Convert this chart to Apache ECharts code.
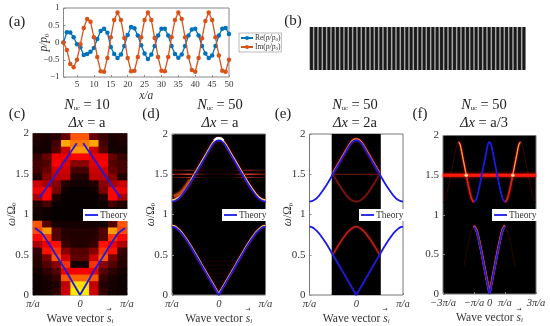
<!DOCTYPE html>
<html><head><meta charset="utf-8">
<script src="https://cdn.jsdelivr.net/npm/echarts@6/dist/echarts.min.js"></script>
<style>html,body{margin:0;padding:0;background:#fff}#c{width:550px;height:326px}</style>
</head><body><div id="c"></div>
<script>
// (a) field along the chain
const siteIndex = [];
for (let i = 1; i <= 50; i++) siteIndex.push(i);
const rePressure = [0,.3,.29,.15,-.05,-.14,-.36,-.33,-.27,-.16,.1,.33,.4,.28,-.13,-.33,-.45,-.35,-.1,.22,.45,.41,.2,-.08,-.32,-.48,-.35,-.1,.2,.4,.4,.2,-.1,-.33,-.44,-.35,-.1,.2,.38,.4,.2,-.1,-.32,-.45,-.38,-.1,.2,.4,.42,.25];
const imPressure = [0,-.22,-.62,-.72,-.5,-.05,.42,.68,.6,.15,-.42,-.83,-.85,-.45,.15,.65,.87,.65,.13,-.45,-.83,-.82,-.42,.15,.65,.87,.65,.13,-.42,-.82,-.83,-.42,.15,.65,.87,.68,.15,-.42,-.8,-.85,-.45,.12,.62,.87,.65,.15,-.38,-.82,-.85,-.5];
const xTicksA = [5,10,15,20,25,30,35,40,45,50];
// (b) lattice stripes
const latticeCells = siteIndex.map(String);
const latticeHeight = siteIndex.map(() => 1);
// theory dispersion, read at k = 0, .05 ... 1 (in units of pi/a)
const kGrid = [0,.05,.1,.15,.2,.25,.3,.35,.4,.45,.5,.55,.6,.65,.7,.75,.8,.85,.9,.95,1];
const lowerBand = [0,.05,.1,.15,.2,.25,.3,.35,.4,.45,.5,.55,.6,.645,.69,.73,.77,.8,.825,.843,.85];
const upperBand = [1.92,1.915,1.89,1.85,1.8,1.75,1.7,1.65,1.6,1.55,1.5,1.45,1.4,1.355,1.31,1.27,1.23,1.2,1.18,1.165,1.16];
// (c) spectrum, rows top to bottom, 10 columns
const heatC = [
[.05,.04,.06,.15,.5,.5,.15,.08,.04,.05],
[.04,.03,.1,.62,.55,.55,.62,.1,.03,.04],
[.03,.03,.12,.3,.6,.6,.3,.12,.03,.03],
[.08,.15,.35,.35,.38,.38,.35,.35,.15,.08],
[.1,.12,.37,.33,.2,.2,.33,.37,.12,.1],
[.1,.15,.3,.3,.1,.1,.3,.3,.15,.1],
[.05,.2,.28,.28,.05,.05,.28,.28,.2,.05],
[.3,.25,.2,.05,.03,.03,.05,.2,.25,.3],
[.35,.38,.18,.02,.01,.01,.02,.18,.38,.35],
[.25,.38,.05,.01,.01,.01,.01,.05,.38,.25],
[.05,.1,.02,.01,.01,.01,.01,.02,.1,.05],
[.03,.02,.01,.01,.01,.01,.01,.01,.02,.03],
[.02,.02,.01,.01,.01,.01,.01,.01,.02,.02],
[.5,.12,.03,.03,.03,.03,.03,.03,.12,.5],
[.48,.6,.12,.05,.05,.05,.05,.12,.6,.48],
[.38,.45,.12,.06,.05,.05,.06,.12,.45,.38],
[.25,.35,.4,.08,.05,.05,.08,.4,.35,.25],
[.08,.4,.45,.2,.12,.12,.2,.45,.4,.08],
[.06,.18,.5,.3,.14,.14,.3,.5,.18,.06],
[.05,.12,.2,.45,.03,.03,.45,.2,.12,.05],
[.03,.07,.12,.35,.36,.36,.35,.12,.07,.03],
[.02,.04,.08,.5,.52,.52,.5,.08,.04,.02],
[.02,.03,.05,.28,.7,.7,.28,.05,.03,.02],
[.02,.03,.07,.3,.72,.72,.3,.07,.03,.02]];
const hotColors = ['#000000','#550000','#aa0000','#ff0000','#ff5500','#ffaa00','#ffff00','#ffff80','#ffffff'];
const theoryUpperC = [[.07,1.88],[.3,1.68],[.6,1.42],[.865,1.2]];
const theoryLowerC = [[0,0],[.3,.3],[.6,.58],[.8,.76],[.957,.83]];
const streaksD = [1.5,1.46,1.55];
const hazeD = [.12,.17,.22,.27,.32,.37,.42];
const serif = '"Liberation Serif","DejaVu Serif",serif';
const blue = '#1a1ae6';

const mirror = (xs, ys) => {
  const r = [];
  for (let i = xs.length - 1; i > 0; i--) r.push([-xs[i], ys[i]]);
  for (let i = 0; i < xs.length; i++) r.push([xs[i], ys[i]]);
  return r;
};
const upperCurve = mirror(kGrid, upperBand);
const lowerCurve = mirror(kGrid, lowerBand);
const rich = {
  i:{fontFamily:serif,fontStyle:'italic',color:'#333',fontSize:11.5},
  t:{fontFamily:serif,color:'#333',fontSize:11.5},
  s:{fontFamily:serif,color:'#333',fontSize:7,padding:[6,0,0,0]},
  si:{fontFamily:serif,fontStyle:'italic',color:'#333',fontSize:7,padding:[6,0,0,0]},
  T:{fontFamily:serif,color:'#222',fontSize:14.5,lineHeight:18},
  I:{fontFamily:serif,fontStyle:'italic',color:'#222',fontSize:14.5,lineHeight:18},
  S:{fontFamily:serif,color:'#222',fontSize:6.5,padding:[7,0,0,0],lineHeight:18}
};
const grid=[],xAxis=[],yAxis=[],series=[],title=[],legend=[],visualMap=[];
const panels = {
  c:{left:33,top:133.5,width:94,height:161.5,bg:'#000',nameY:true},
  d:{left:172,top:134,width:93.5,height:161,bg:'#000',nameY:true},
  e:{left:309.5,top:134,width:93.5,height:161,bg:'#fff',nameY:true},
  f:{left:443,top:135.5,width:93,height:158.5,bg:'#000',nameY:false}
};
function baseAxes(key,p,xmax,xticks,fmt){
  const g=grid.length;
  grid.push({left:p.left,top:p.top,width:p.width,height:p.height,show:true,backgroundColor:p.bg,borderColor:'#777',borderWidth:1,z:0});
  const xi=xAxis.length, yi=yAxis.length;
  xAxis.push({type:'value',gridIndex:g,min:-xmax,max:xmax,splitLine:{show:false},axisLine:{show:false,onZero:false},
    axisTick:{inside:true,length:2,lineStyle:{color:'#888'},customValues:xticks},
    axisLabel:{customValues:xticks,formatter:fmt,fontFamily:serif,fontStyle:'italic',fontSize:10.5,color:'#333',margin:4,hideOverlap:false},
    name:'{t|Wave vector }{i|s}{si|i}',nameLocation:'middle',nameGap:17,nameMoveOverlap:false,nameTextStyle:{rich}});
  yAxis.push({type:'value',gridIndex:g,min:0,max:2,interval:.5,splitLine:{show:false},axisLine:{show:false,onZero:false},
    axisTick:{inside:true,length:2,lineStyle:{color:'#888'}},
    axisLabel:{fontFamily:serif,fontSize:11,color:'#333',margin:4},
    name:p.nameY?'{i|\u03C9}{t|/\u03A9}{s|0}':'',nameLocation:'middle',nameGap:15,nameMoveOverlap:false,nameTextStyle:{rich}});
  return {xi,yi};
}
function ridge(a,data,color,width,opacity,blur,z){
  series.push({type:'line',xAxisIndex:a.xi,yAxisIndex:a.yi,data,symbol:'none',silent:true,z:z||2,
    lineStyle:{color,width,opacity:opacity==null?1:opacity,shadowBlur:blur||0,shadowColor:color},emphasis:{disabled:true}});
}
function theory(a,data){
  series.push({name:'Theory',type:'line',xAxisIndex:a.xi,yAxisIndex:a.yi,data,symbol:'none',silent:true,z:5,
    lineStyle:{color:blue,width:1.8},itemStyle:{color:blue},emphasis:{disabled:true}});
}
function theoryLegend(left,top){
  legend.push({data:[{name:'Theory',icon:'rect'}],left,top,padding:[1,2,1,2],backgroundColor:'#fff',itemWidth:13,itemHeight:1.8,itemGap:0,
    selectedMode:false,textStyle:{fontFamily:serif,fontSize:9.5,color:'#333',padding:[0,0,0,-3]}});
}
const piLabel = v => v===0?'0':(Math.abs(v)===1?'\u03C0/a':'');
function fLabel(v){ return v===0?'0':({'-3':'\u22123\u03C0/a','-1':'\u2212\u03C0/a','1':'\u03C0/a','3':'3\u03C0/a'})[v]; }

// (a)
grid.push({left:63.5,top:8,width:165.5,height:69,show:true,borderColor:'#888',borderWidth:1});
xAxis.push({type:'value',gridIndex:0,min:1,max:50,splitLine:{show:false},axisLine:{show:false,onZero:false},
  axisTick:{inside:true,length:2,lineStyle:{color:'#888'},customValues:xTicksA},
  axisLabel:{customValues:xTicksA,fontFamily:serif,fontSize:9,color:'#333',margin:3},
  name:'{i|x/a}',nameLocation:'middle',nameGap:13,nameMoveOverlap:false,nameTextStyle:{rich}});
yAxis.push({type:'value',gridIndex:0,min:-1,max:1,interval:.5,splitLine:{show:false},axisLine:{show:false,onZero:false},
  axisTick:{inside:true,length:2,lineStyle:{color:'#888'}},
  axisLabel:{fontFamily:serif,fontSize:9,color:'#333',margin:4,formatter:v=>String(v).replace('-','\u2212')},
  name:'{i|p/p}{s|0}',nameLocation:'middle',nameGap:13,nameMoveOverlap:false,nameTextStyle:{rich}});
const pair=(ys)=>ys.map((v,i)=>[siteIndex[i],v]);
const nameRe='Re(p/p0)', nameIm='Im(p/p0)';
series.push({name:nameRe,type:'line',xAxisIndex:0,yAxisIndex:0,data:pair(rePressure),symbol:'circle',symbolSize:4.5,
  lineStyle:{color:'#0072BD',width:1.3},itemStyle:{color:'#0072BD'},z:3,silent:true});
series.push({name:nameIm,type:'line',xAxisIndex:0,yAxisIndex:0,data:pair(imPressure),symbol:'circle',symbolSize:4.5,
  lineStyle:{color:'#D95319',width:1.3},itemStyle:{color:'#D95319'},z:4,silent:true});
legend.push({data:[nameRe,nameIm],orient:'vertical',left:239,top:33,padding:[1,1,1,1],itemWidth:12,itemHeight:5,itemGap:1,
  backgroundColor:'#fff',borderColor:'#aaa',borderWidth:.8,selectedMode:false,
  formatter:n=>'{t|'+n.slice(0,3)+'}{i|p/p}{s|0}{t|)}',
  textStyle:{padding:[0,0,0,-3],rich:{t:{fontFamily:serif,fontSize:7.5,color:'#333'},i:{fontFamily:serif,fontStyle:'italic',fontSize:7.5,color:'#333'},s:{fontFamily:serif,fontSize:5,color:'#333',padding:[3,0,0,0]}}}});

// (b)
const gb=grid.length;
grid.push({left:309.3,top:27,width:216.7,height:43,show:true,backgroundColor:'#a6a6a6',borderWidth:0});
const xb=xAxis.length, yb=yAxis.length;
xAxis.push({type:'category',gridIndex:gb,data:latticeCells,show:false});
yAxis.push({type:'value',gridIndex:gb,min:0,max:1,show:false});
series.push({type:'bar',xAxisIndex:xb,yAxisIndex:yb,data:latticeHeight,barWidth:'66%',itemStyle:{color:'#1a1a1a'},silent:true});

// (c)
const A=baseAxes('c',panels.c,1,[-1,0,1],piLabel);
const xcH=xAxis.length, ycH=yAxis.length;
const gridC=grid.length-1;
xAxis.push({type:'category',gridIndex:gridC,position:'top',show:false,data:heatC[0].map((_,i)=>String(i))});
yAxis.push({type:'category',gridIndex:gridC,position:'right',show:false,data:heatC.map((_,i)=>String(i))});
const heatData=[];
heatC.forEach((row,r)=>row.forEach((v,c)=>heatData.push([c,heatC.length-1-r,v])));
visualMap.push({show:false,type:'continuous',min:0,max:1,dimension:2,seriesIndex:series.length,inRange:{color:hotColors}});
series.push({type:'heatmap',xAxisIndex:xcH,yAxisIndex:ycH,data:heatData,silent:true,z:1,progressive:0});
theory(A,theoryUpperC.map(p=>[-p[0],p[1]]));
theory(A,theoryUpperC);
theory(A,theoryLowerC.map(p=>[-p[0],p[1]]));
theory(A,theoryLowerC);
theoryLegend(83,209);

// (d)
const D=baseAxes('d',panels.d,1,[-1,0,1],piLabel);
const shiftUp=(c,d)=>c.map(p=>[p[0],p[1]+d]);
hazeD.forEach(w=>ridge(D,[[-w,w],[w,w]],'#3a0804',.8,.6));
ridge(D,shiftUp(upperCurve,.015),'#a01000',2.6,.6,4);
ridge(D,shiftUp(lowerCurve,.01),'#a01000',2.4,.6,3);
ridge(D,shiftUp(upperCurve,.018),'#ffd070',2,1,0);
ridge(D,shiftUp(lowerCurve,.012),'#ffd070',1.9,1,0);
ridge(D,shiftUp(upperCurve.filter(p=>Math.abs(p[0])<=.12),.03),'#ffffff',2,1,1);
streaksD.forEach((w,i)=>{
  series.push({type:'line',xAxisIndex:D.xi,yAxisIndex:D.yi,data:[[-1,w],[1,w]],symbol:'none',silent:true,z:2,
    lineStyle:{width:i===0?1.3:.7,color:{type:'linear',x:0,y:0,x2:1,y2:0,colorStops:[
      {offset:0,color:'rgba(200,30,20,.4)'},{offset:.2,color:'rgba(255,70,40,.9)'},{offset:.38,color:'rgba(120,10,5,.25)'},
      {offset:.62,color:'rgba(120,10,5,.25)'},{offset:.8,color:'rgba(255,70,40,.9)'},{offset:1,color:'rgba(200,30,20,.4)'}]}}});
});
ridge(D,upperCurve.filter(p=>p[0]<-.6).map(p=>[p[0]+.04,p[1]+.07]),'#d05010',3.4,.75,3);
theory(D,upperCurve); theory(D,lowerCurve);
theoryLegend(222,209);

// (e)
const E=baseAxes('e',panels.e,1,[-1,0,1],piLabel);
series.push({type:'line',xAxisIndex:E.xi,yAxisIndex:E.yi,data:[],silent:true,z:1,
  markArea:{silent:true,itemStyle:{color:'#000',opacity:1},data:[[{xAxis:-.525},{xAxis:.525}]]}});
const inWindow=c=>c.filter(p=>Math.abs(p[0])<=.525);
const foldE=(ys)=>mirror(kGrid.slice(0,11),ys.slice(10).reverse());
ridge(E,inWindow(shiftUp(upperCurve,.015)),'#d01808',2,.8,3);
ridge(E,inWindow(shiftUp(upperCurve,.022)),'#ff9040',1.1,1,0);
ridge(E,foldE(upperBand),'#8a1a10',1.3,.9,2);
ridge(E,foldE(lowerBand),'#c02018',1.4,.95,2);
ridge(E,inWindow(lowerCurve),'#501008',1.2,.6,2);
ridge(E,[[-.525,1.5],[.525,1.5]],'#a02010',.9,.9);
theory(E,upperCurve); theory(E,lowerCurve);
theoryLegend(359,209);

// (f)
const F=baseAxes('f',panels.f,3,[-3,-1,0,1,3],fLabel);
const branch=(ys,fn)=>kGrid.map((k,i)=>[fn(k),ys[i]]);
const sides=(c,opts)=>{ ridge(F,c,...opts); ridge(F,c.map(p=>[-p[0],p[1]]),...opts); };
sides(branch(upperBand,k=>2-k),['#e82010',1.5,1,2]);
sides(branch(upperBand,k=>2-k).filter(p=>p[0]>1.45),['#ffb040',1,1,0]);
sides(branch(upperBand,k=>2+k),['#4a0c06',1,.7,0]);
sides(branch(lowerBand,k=>2-k).filter(p=>p[1]>.3),['#4a0c06',.9,.6,0]);
ridge(F,[[-3,1.5],[3,1.5]],'#ff1808',3,1,3);
series.push({type:'scatter',xAxisIndex:F.xi,yAxisIndex:F.yi,data:[[-1.5,1.5],[1.5,1.5]],symbolSize:3.5,itemStyle:{color:'#ffffc0'},silent:true,z:4});
ridge(F,shiftUp(lowerCurve,.01),'#ff5020',2.2,1,1);
theory(F,upperCurve); theory(F,lowerCurve);
theoryLegend(492,209);

// texts
const tit=(text,left,top)=>title.push({text,left,top,padding:0,textAlign:'center',textStyle:{rich,fontFamily:serif,fontSize:15,color:'#222',fontWeight:'normal',lineHeight:18}});
const head=(cx,n,dx)=>{ tit('{I|N}{S|uc}{T| = '+n+'}\n{I|\u0394x}{T| = '+dx+'}',cx,96); };
head(87,'10','a'); head(220,'50','a'); head(355,'50','2a'); head(484,'50','a/3');
[['(a)',17,13],['(b)',293,12],['(c)',17,105],['(d)',151,105],['(e)',283,105],['(f)',420,105]].forEach(l=>tit(l[0],l[1],l[2]));
[109,248,385,519].forEach(cx=>title.push({text:'\u2192',left:cx,top:306,padding:0,textAlign:'center',textStyle:{fontFamily:'"DejaVu Sans"',fontSize:6,color:'#333',fontWeight:'normal'}}));

const chart=echarts.init(document.getElementById('c'),null,{renderer:'canvas'});
chart.setOption({animation:false,backgroundColor:'#fff',grid,xAxis,yAxis,series,title,legend,visualMap,tooltip:{show:false}});
</script></body></html>
